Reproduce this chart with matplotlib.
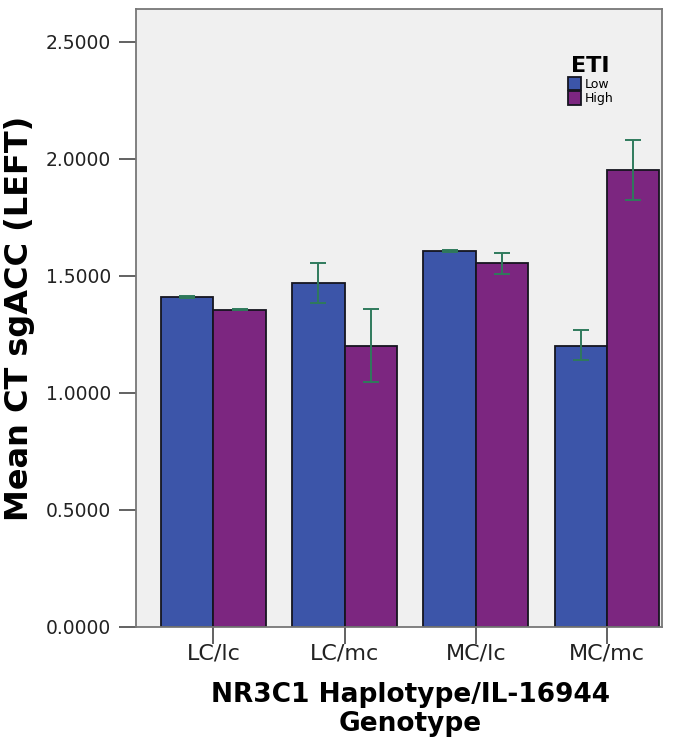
import numpy as np
import matplotlib
matplotlib.use("Agg")
import matplotlib.pyplot as plt

# data
genotypes = ["LC/lc", "LC/mc", "MC/lc", "MC/mc"]
low_mean = [1.410, 1.468, 1.607, 1.200]
low_lo = [1.405, 1.385, 1.604, 1.139]
low_hi = [1.414, 1.555, 1.610, 1.267]
high_mean = [1.356, 1.200, 1.553, 1.953]
high_lo = [1.354, 1.046, 1.509, 1.826]
high_hi = [1.358, 1.360, 1.597, 2.081]

blue = "#3c55a9"
purple = "#7c2680"
err_col = "#2f7a5c"

fig = plt.figure(figsize=(6.94, 7.5), dpi=100)
ax = fig.add_axes([0.196, 0.164, 0.758, 0.824])
ax.set_facecolor("#f0f0f0")

x = np.arange(len(genotypes))
w = 0.4
low = np.array(low_mean)
high = np.array(high_mean)
low_err = [low - np.array(low_lo), np.array(low_hi) - low]
high_err = [high - np.array(high_lo), np.array(high_hi) - high]

ax.bar(x - w / 2, low, w, color=blue, edgecolor="#15151f", linewidth=1.3, label="Low", zorder=2)
ax.bar(x + w / 2, high, w, color=purple, edgecolor="#15151f", linewidth=1.3, label="High", zorder=2)
ax.errorbar(x - w / 2, low, yerr=low_err, fmt="none", ecolor=err_col, elinewidth=1.4, capsize=6, capthick=1.4, zorder=3)
ax.errorbar(x + w / 2, high, yerr=high_err, fmt="none", ecolor=err_col, elinewidth=1.4, capsize=6, capthick=1.4, zorder=3)

ax.set_xlim(-0.59, 3.42)
ax.set_ylim(0, 2.64)
ax.set_yticks([0, 0.5, 1.0, 1.5, 2.0, 2.5])
ax.set_yticklabels([f"{v:.4f}" for v in [0, 0.5, 1.0, 1.5, 2.0, 2.5]])
ax.set_xticks(x)
ax.set_xticklabels(genotypes)
ax.tick_params(axis="both", direction="out", length=12, width=1.3, color="#555555", labelsize=13.5, colors="#222222")
ax.tick_params(axis="x", labelsize=16, pad=0)
ax.tick_params(axis="y", pad=6)
for s in ax.spines.values():
    s.set_color("#777777")
    s.set_linewidth(1.3)

ax.set_ylabel("Mean CT sgACC (LEFT)", fontsize=23, fontweight="bold", labelpad=8)
ax.set_xlabel("NR3C1 Haplotype/IL-16944\nGenotype", fontsize=19, fontweight="bold", linespacing=1.15)
ax.xaxis.set_label_coords(0.522, -0.089, transform=ax.transAxes)
ax.xaxis.label.set_verticalalignment("top")

leg = ax.legend(title="ETI", loc="upper left", bbox_to_anchor=(0.8, 0.942), frameon=False,
                fontsize=9, handlelength=1.0, handleheight=1.3, handletextpad=0.3, labelspacing=0.05)
leg.get_title().set_fontsize(16)
leg.get_title().set_fontweight("bold")

fig.savefig("out.png", dpi=100)
